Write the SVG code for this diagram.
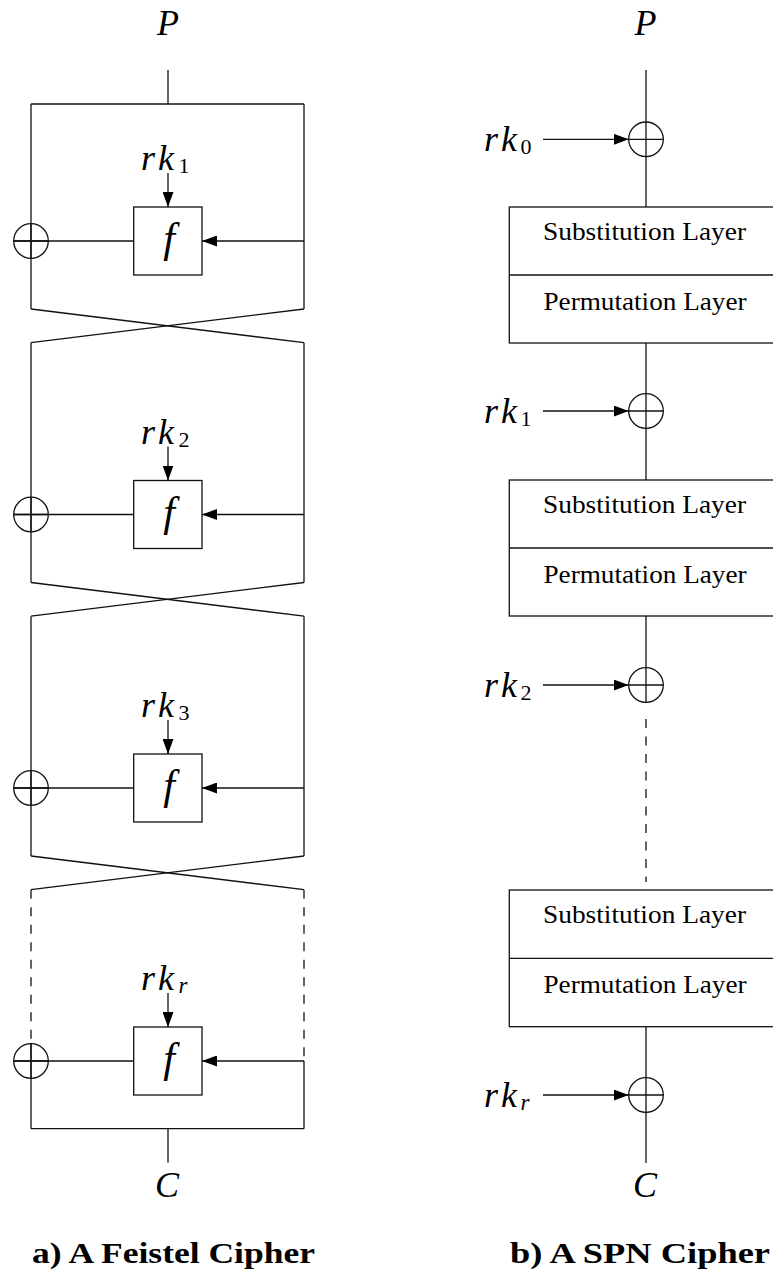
<svg xmlns="http://www.w3.org/2000/svg" width="773" height="1275" viewBox="0 0 773 1275">
  <style>
    .ln { fill: none; stroke: #111; stroke-width: 1.3; }
    .dash { fill: none; stroke: #111; stroke-width: 1.3; stroke-dasharray: 9 8.5; }
    .box { fill: none; stroke: #111; stroke-width: 1.3; }
    .xor { fill: none; stroke: #111; stroke-width: 1.3; }
    .math { font-family: "Liberation Serif", "DejaVu Serif", serif; font-style: italic; fill: #000; }
    .key { font-size: 36px; }
    .sub { font-style: normal; font-size: 22px; }
    .subi { font-style: italic; font-size: 23px; }
    .layer { font-family: "Liberation Serif", "DejaVu Serif", serif; font-size: 25px; fill: #000; }
    .cap { font-family: "Liberation Serif", "DejaVu Serif", serif; font-weight: bold; font-size: 29px; fill: #000; }
  </style>
  <defs>
    <marker id="arr" markerUnits="userSpaceOnUse" markerWidth="15" markerHeight="11" refX="15" refY="5.5" orient="auto">
      <path d="M0,0 L15,5.5 L0,11 z" fill="#000"/>
    </marker>
    <g id="xorSym">
      <circle cx="0" cy="0" r="17.3" class="xor"/>
      <line x1="-17.3" y1="0" x2="17.3" y2="0" class="ln"/>
      <line x1="0" y1="-17.3" x2="0" y2="17.3" class="ln"/>
    </g>
  </defs>

  <!-- ===== a) Feistel network ===== -->
  <g id="feistel">
    <g id="f-connectors">
      <!-- input stem and top rail -->
      <line x1="168" y1="70" x2="168" y2="104" class="ln"/>
      <line x1="31" y1="104" x2="304" y2="104" class="ln"/>
      <!-- round 1 -->
      <line x1="31" y1="104" x2="31" y2="309" class="ln"/>
      <line x1="304" y1="104" x2="304" y2="309" class="ln"/>
      <line x1="14" y1="241" x2="133.7" y2="241" class="ln"/>
      <line x1="304" y1="241" x2="202" y2="241" class="ln" marker-end="url(#arr)"/>
      <line x1="168" y1="173" x2="168" y2="207" class="ln" marker-end="url(#arr)"/>
      <line x1="31" y1="309" x2="304" y2="342.7" class="ln"/>
      <line x1="304" y1="309" x2="31" y2="342.7" class="ln"/>
      <!-- round 2 -->
      <line x1="31" y1="342.7" x2="31" y2="582.5" class="ln"/>
      <line x1="304" y1="342.7" x2="304" y2="582.5" class="ln"/>
      <line x1="14" y1="514.5" x2="133.7" y2="514.5" class="ln"/>
      <line x1="304" y1="514.5" x2="202" y2="514.5" class="ln" marker-end="url(#arr)"/>
      <line x1="168" y1="446.5" x2="168" y2="480.5" class="ln" marker-end="url(#arr)"/>
      <line x1="31" y1="582.5" x2="304" y2="616.2" class="ln"/>
      <line x1="304" y1="582.5" x2="31" y2="616.2" class="ln"/>
      <!-- round 3 -->
      <line x1="31" y1="616.2" x2="31" y2="856" class="ln"/>
      <line x1="304" y1="616.2" x2="304" y2="856" class="ln"/>
      <line x1="14" y1="788" x2="133.7" y2="788" class="ln"/>
      <line x1="304" y1="788" x2="202" y2="788" class="ln" marker-end="url(#arr)"/>
      <line x1="168" y1="720" x2="168" y2="754" class="ln" marker-end="url(#arr)"/>
      <line x1="31" y1="856" x2="304" y2="889.7" class="ln"/>
      <line x1="304" y1="856" x2="31" y2="889.7" class="ln"/>
      <!-- last round (elided rounds dashed) -->
      <line x1="31" y1="889.7" x2="31" y2="1043.7" class="dash"/>
      <line x1="304" y1="889.7" x2="304" y2="1061" class="dash"/>
      <line x1="31" y1="1043.7" x2="31" y2="1128.7" class="ln"/>
      <line x1="304" y1="1061" x2="304" y2="1128.7" class="ln"/>
      <line x1="14" y1="1061" x2="133.7" y2="1061" class="ln"/>
      <line x1="304" y1="1061" x2="202" y2="1061" class="ln" marker-end="url(#arr)"/>
      <line x1="168" y1="993" x2="168" y2="1027" class="ln" marker-end="url(#arr)"/>
      <!-- bottom rail and output stem -->
      <line x1="31" y1="1128.7" x2="304" y2="1128.7" class="ln"/>
      <line x1="168" y1="1128.7" x2="168" y2="1162.7" class="ln"/>
    </g>

    <g id="f-P"><text x="168" y="35" class="math" font-size="36" text-anchor="middle">P</text></g>

    <g id="f-round1">
      <rect x="133.7" y="207" width="68.3" height="68" class="box"/>
      <text x="169" y="252" class="math" font-size="42" text-anchor="middle">f</text>
      <use href="#xorSym" x="31" y="241"/>
      <text class="math key" y="170"><tspan x="141">r</tspan><tspan x="158">k</tspan><tspan x="178.5" dy="3" class="sub">1</tspan></text>
    </g>
    <g id="f-round2">
      <rect x="133.7" y="480.5" width="68.3" height="68" class="box"/>
      <text x="169" y="525.5" class="math" font-size="42" text-anchor="middle">f</text>
      <use href="#xorSym" x="31" y="514.5"/>
      <text class="math key" y="443.5"><tspan x="141">r</tspan><tspan x="158">k</tspan><tspan x="178.5" dy="3" class="sub">2</tspan></text>
    </g>
    <g id="f-round3">
      <rect x="133.7" y="754" width="68.3" height="68" class="box"/>
      <text x="169" y="799" class="math" font-size="42" text-anchor="middle">f</text>
      <use href="#xorSym" x="31" y="788"/>
      <text class="math key" y="717"><tspan x="141">r</tspan><tspan x="158">k</tspan><tspan x="178.5" dy="3" class="sub">3</tspan></text>
    </g>
    <g id="f-roundr">
      <rect x="133.7" y="1027" width="68.3" height="68" class="box"/>
      <text x="169" y="1072" class="math" font-size="42" text-anchor="middle">f</text>
      <use href="#xorSym" x="31" y="1061"/>
      <text class="math key" y="990"><tspan x="141">r</tspan><tspan x="158">k</tspan><tspan x="178.5" dy="3" class="subi">r</tspan></text>
    </g>

    <g id="f-C"><text x="167" y="1197" class="math" font-size="36" text-anchor="middle">C</text></g>
    <g id="f-caption"><text x="32" y="1263" class="cap" textLength="283" lengthAdjust="spacingAndGlyphs">a) A Feistel Cipher</text></g>
  </g>

  <!-- ===== b) Substitution-permutation network ===== -->
  <g id="spn">
    <g id="s-connectors">
      <line x1="646" y1="70" x2="646" y2="122" class="ln"/>
      <line x1="646" y1="156.6" x2="646" y2="207" class="ln"/>
      <line x1="646" y1="343" x2="646" y2="393.7" class="ln"/>
      <line x1="646" y1="428.3" x2="646" y2="480" class="ln"/>
      <line x1="646" y1="616" x2="646" y2="667.7" class="ln"/>
      <line x1="646" y1="719" x2="646" y2="882" class="dash"/>
      <line x1="646" y1="1027" x2="646" y2="1077.7" class="ln"/>
      <line x1="646" y1="1112.3" x2="646" y2="1163" class="ln"/>
      <line x1="543" y1="139.3" x2="628.7" y2="139.3" class="ln" marker-end="url(#arr)"/>
      <line x1="543" y1="411" x2="628.7" y2="411" class="ln" marker-end="url(#arr)"/>
      <line x1="543" y1="685" x2="628.7" y2="685" class="ln" marker-end="url(#arr)"/>
      <line x1="543" y1="1095" x2="628.7" y2="1095" class="ln" marker-end="url(#arr)"/>
    </g>

    <g id="s-P"><text x="645.5" y="35" class="math" font-size="36" text-anchor="middle">P</text></g>

    <g id="s-key0">
      <use href="#xorSym" x="646" y="139.3"/>
      <text class="math key" y="151"><tspan x="484">r</tspan><tspan x="501">k</tspan><tspan x="520.5" dy="3" class="sub">0</tspan></text>
    </g>
    <g id="s-layers1">
      <rect x="509.3" y="207" width="290" height="136" class="box"/>
      <line x1="509.3" y1="275" x2="799.3" y2="275" class="ln"/>
      <text x="644.5" y="240" class="layer" text-anchor="middle" textLength="203" lengthAdjust="spacingAndGlyphs">Substitution Layer</text>
      <text x="645" y="310" class="layer" text-anchor="middle" textLength="203" lengthAdjust="spacingAndGlyphs">Permutation Layer</text>
    </g>
    <g id="s-key1">
      <use href="#xorSym" x="646" y="411"/>
      <text class="math key" y="422.5"><tspan x="484">r</tspan><tspan x="501">k</tspan><tspan x="520.5" dy="3" class="sub">1</tspan></text>
    </g>
    <g id="s-layers2">
      <rect x="509.3" y="480" width="290" height="136" class="box"/>
      <line x1="509.3" y1="548" x2="799.3" y2="548" class="ln"/>
      <text x="644.5" y="513" class="layer" text-anchor="middle" textLength="203" lengthAdjust="spacingAndGlyphs">Substitution Layer</text>
      <text x="645" y="583" class="layer" text-anchor="middle" textLength="203" lengthAdjust="spacingAndGlyphs">Permutation Layer</text>
    </g>
    <g id="s-key2">
      <use href="#xorSym" x="646" y="685"/>
      <text class="math key" y="696.5"><tspan x="484">r</tspan><tspan x="501">k</tspan><tspan x="520.5" dy="3" class="sub">2</tspan></text>
    </g>
    <g id="s-layers3">
      <rect x="509.3" y="890" width="290" height="136.7" class="box"/>
      <line x1="509.3" y1="958.3" x2="799.3" y2="958.3" class="ln"/>
      <text x="644.5" y="923" class="layer" text-anchor="middle" textLength="203" lengthAdjust="spacingAndGlyphs">Substitution Layer</text>
      <text x="645" y="993" class="layer" text-anchor="middle" textLength="203" lengthAdjust="spacingAndGlyphs">Permutation Layer</text>
    </g>
    <g id="s-keyr">
      <use href="#xorSym" x="646" y="1095"/>
      <text class="math key" y="1106.5"><tspan x="484">r</tspan><tspan x="501">k</tspan><tspan x="520.5" dy="3" class="subi">r</tspan></text>
    </g>

    <g id="s-C"><text x="645" y="1197" class="math" font-size="36" text-anchor="middle">C</text></g>
    <g id="s-caption"><text x="510" y="1263" class="cap" textLength="260" lengthAdjust="spacingAndGlyphs">b) A SPN Cipher</text></g>
  </g>
</svg>
